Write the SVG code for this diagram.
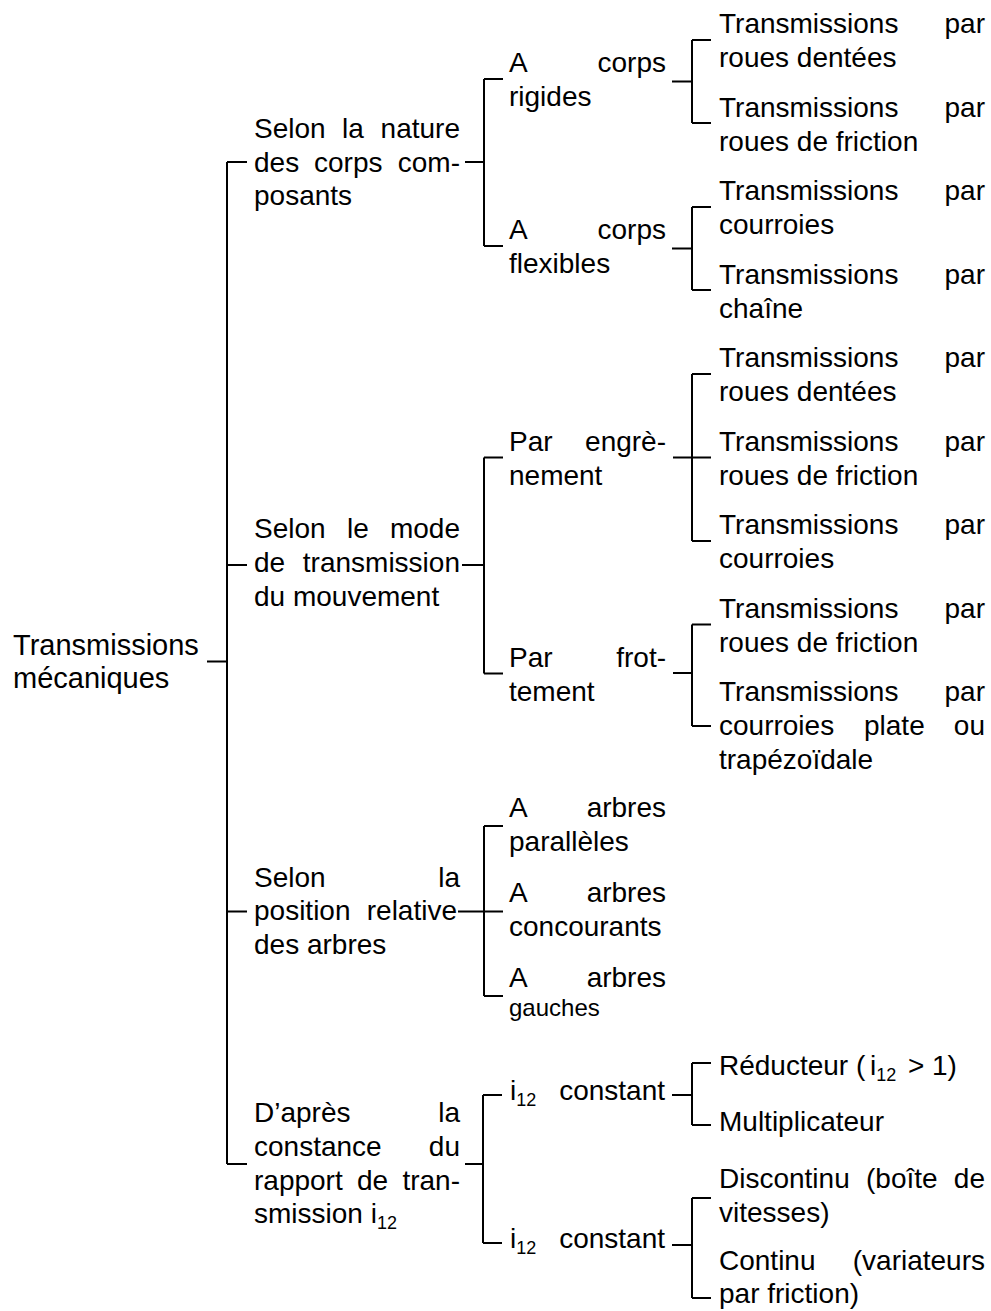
<svg xmlns="http://www.w3.org/2000/svg" width="991" height="1311" viewBox="0 0 991 1311">
<style>
text{font-family:"Liberation Sans",Arial,sans-serif;font-size:28px;fill:#000}
.e{text-anchor:end}
.sm{font-size:24px}
.rt{font-size:29px}
.sub{font-size:18px}
.c{stroke:#000;stroke-width:2;fill:none}
</style>
<rect width="991" height="1311" fill="#fff"/>
<g id="connectors" class="c">
<path d="M207,661.5H227M227,162V1164M227,162H247M227,565H247M227,911.5H247M227,1164H247"/>
<path d="M465,162H484M484,79V246M484,79H503M484,246H503"/>
<path d="M462,565H484M484,457.5V673.5M484,457.5H503M484,673.5H503"/>
<path d="M458,911.5H484M484,826V996M484,826H503M484,911.5H503M484,996H503"/>
<path d="M465,1164H483M483,1095V1243M483,1095H502M483,1243H502"/>
<path d="M672,81.5H692M692,40V123M692,40H711M692,123H711"/>
<path d="M672,248.5H692M692,207V290M692,207H711M692,290H711"/>
<path d="M673,457.5H692M692,374V541M692,374H711M692,457.5H711M692,541H711"/>
<path d="M673,673H692M692,624.5V726M692,624.5H711M692,726H711"/>
<path d="M672,1095H692M692,1063V1125M692,1063H711M692,1125H711"/>
<path d="M672,1245H692M692,1198V1298M692,1198H711M692,1298H711"/>
</g>
<g id="root"><text class="rt" x="13" y="655">Transmissions</text><text class="rt" x="13" y="688">mécaniques</text></g>
<g id="n1">
<text x="254" y="138">Selon</text><text x="342" y="138">la</text><text class="e" x="460" y="138">nature</text>
<text x="254" y="171.5">des</text><text x="314" y="171.5">corps</text><text class="e" x="460" y="171.5">com-</text>
<text x="254" y="205">posants</text>
</g>
<g id="n2">
<text x="254" y="538">Selon</text><text x="347" y="538">le</text><text class="e" x="460" y="538">mode</text>
<text x="254" y="572">de</text><text class="e" x="460" y="572">transmission</text>
<text x="254" y="606">du mouvement</text>
</g>
<g id="n3">
<text x="254" y="886.5">Selon</text><text class="e" x="460" y="886.5">la</text>
<text x="254" y="920">position</text><text class="e" x="457" y="920">relative</text>
<text x="254" y="953.5">des arbres</text>
</g>
<g id="n4">
<text x="254" y="1122">D’après</text><text class="e" x="460" y="1122">la</text>
<text x="254" y="1156">constance</text><text class="e" x="460" y="1156">du</text>
<text x="254" y="1190">rapport</text><text x="357" y="1190">de</text><text class="e" x="460" y="1190">tran-</text>
<text x="254" y="1223">smission i<tspan class="sub" dy="6">12</tspan></text>
</g>
<g id="n11"><text x="509" y="72">A</text><text class="e" x="666" y="72">corps</text><text x="509" y="106">rigides</text></g>
<g id="n12"><text x="509" y="239">A</text><text class="e" x="666" y="239">corps</text><text x="509" y="273">flexibles</text></g>
<g id="n21"><text x="509" y="450.5">Par</text><text class="e" x="666" y="450.5">engrè-</text><text x="509" y="484.5">nement</text></g>
<g id="n22"><text x="509" y="667">Par</text><text class="e" x="666" y="667">frot-</text><text x="509" y="701">tement</text></g>
<g id="n31"><text x="509" y="817">A</text><text class="e" x="666" y="817">arbres</text><text x="509" y="851">parallèles</text></g>
<g id="n32"><text x="509" y="902">A</text><text class="e" x="666" y="902">arbres</text><text x="509" y="936">concourants</text></g>
<g id="n33"><text x="509" y="987">A</text><text class="e" x="666" y="987">arbres</text><text class="sm" x="509" y="1016">gauches</text></g>
<g id="n41"><text x="510" y="1100">i<tspan class="sub" dy="6">12</tspan></text><text class="e" x="665" y="1100">constant</text></g>
<g id="n42"><text x="510" y="1248">i<tspan class="sub" dy="6">12</tspan></text><text class="e" x="665" y="1248">constant</text></g>
<g id="n111"><text x="719" y="33">Transmissions</text><text class="e" x="985" y="33">par</text><text x="719" y="67">roues dentées</text></g>
<g id="n112"><text x="719" y="116.5">Transmissions</text><text class="e" x="985" y="116.5">par</text><text x="719" y="150.5">roues de friction</text></g>
<g id="n121"><text x="719" y="200">Transmissions</text><text class="e" x="985" y="200">par</text><text x="719" y="234">courroies</text></g>
<g id="n122"><text x="719" y="283.5">Transmissions</text><text class="e" x="985" y="283.5">par</text><text x="719" y="317.5">chaîne</text></g>
<g id="n211"><text x="719" y="367">Transmissions</text><text class="e" x="985" y="367">par</text><text x="719" y="401">roues dentées</text></g>
<g id="n212"><text x="719" y="450.5">Transmissions</text><text class="e" x="985" y="450.5">par</text><text x="719" y="484.5">roues de friction</text></g>
<g id="n213"><text x="719" y="534">Transmissions</text><text class="e" x="985" y="534">par</text><text x="719" y="568">courroies</text></g>
<g id="n221"><text x="719" y="617.5">Transmissions</text><text class="e" x="985" y="617.5">par</text><text x="719" y="651.5">roues de friction</text></g>
<g id="n222"><text x="719" y="701">Transmissions</text><text class="e" x="985" y="701">par</text>
<text x="719" y="735">courroies</text><text x="864" y="735">plate</text><text class="e" x="985" y="735">ou</text>
<text x="719" y="769">trapézoïdale</text></g>
<g id="n411"><text x="719" y="1075">Réducteur (</text><text x="870" y="1075">i<tspan class="sub" dy="6">12</tspan></text><text x="908" y="1075">&gt;</text><text x="932" y="1075">1)</text></g>
<g id="n412"><text x="719" y="1131">Multiplicateur</text></g>
<g id="n421"><text x="719" y="1188">Discontinu</text><text x="866" y="1188">(boîte</text><text class="e" x="985" y="1188">de</text><text x="719" y="1222">vitesses)</text></g>
<g id="n422"><text x="719" y="1270">Continu</text><text class="e" x="985" y="1270">(variateurs</text><text x="719" y="1303">par friction)</text></g>
</svg>
